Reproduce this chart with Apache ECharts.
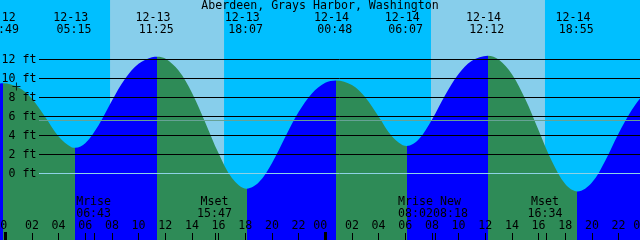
<!DOCTYPE html>
<html><head><meta charset="utf-8">
<script src="https://cdn.jsdelivr.net/npm/echarts@6/dist/echarts.min.js"></script>
<style>html,body{margin:0;padding:0;background:#00BFFF;overflow:hidden}#c{width:640px;height:240px}</style>
</head><body><div id="c"></div>
<script>
// ---------------- data ----------------
const stationTitle = 'Aberdeen, Grays Harbor, Washington';
// tide curve: hours since 12-13 00:00, height in feet
const tideHours = [-1, -0.183, 1, 2, 3, 4, 5, 5.25, 6, 7, 8, 9, 10, 11, 11.417, 12, 13, 14, 15, 16, 17, 18.117, 19, 20, 21, 22, 23, 24, 24.8, 26, 27, 28, 29, 30.117, 31, 32, 33, 34, 35, 36.2, 37, 38, 39, 40, 41, 42, 42.917, 44, 45, 46, 47, 48];
const tideFeet  = [9.3, 9.5, 9.05, 7.86, 5.94, 3.9, 2.75, 2.7, 3.19, 5.09, 7.66, 9.99, 11.54, 12.24, 12.3, 12.1, 10.84, 8.5, 5.38, 2.12, -0.47, -1.6, -0.96, 1.09, 3.84, 6.47, 8.43, 9.54, 9.8, 9.31, 8.02, 5.99, 3.93, 2.9, 3.58, 5.66, 8.26, 10.47, 11.86, 12.4, 12.01, 10.46, 7.84, 4.55, 1.28, -1.11, -1.9, -0.95, 1.35, 4.2, 6.7, 8.6];
// high / low tide events
const tideDates = ['12-12', '12-13', '12-13', '12-13', '12-14', '12-14', '12-14', '12-14'];
const tideTimes = ['23:49', '05:15', '11:25', '18:07', '00:48', '06:07', '12:12', '18:55'];
// moon events
const moonNames = ['Mrise', 'Mset', 'Mrise', 'New', 'Mset'];
const moonDates = ['12-13', '12-13', '12-14', '12-14', '12-14'];
const moonTimes = ['06:43', '15:47', '08:02', '08:18', '16:34'];
// daylight (hours since 12-13 00:00)
const sunriseHours = [7.86, 31.93];
const sunsetHours  = [16.41, 40.48];
// levels
const levelTicks = [0, 2, 4, 6, 8, 10, 12];
const mslFeet = 5.58;
const nowHour = 0.84, nowFeet = 9.16;
const dayStartHours = [0, 24];

// ---------------- style / layout ----------------
const FLOOD = '#0000FF', EBB = '#2E8B57', DAY = '#87CEEB', NIGHT = '#00BFFF';
const DATUM_COLOR = '#8ED2E6', MSL_COLOR = '#66A295';
const FONT = 'DejaVu Sans Mono', FS = 11.6;
const PX_PER_HOUR = 40 / 3, X0 = 5.25;   // pixel x of 12-13 00:00
const PX_PER_FOOT = 9.5, Y0 = 173.5;    // pixel y of 0 ft
const W = 640, H = 240;
const gridLeft = X0 - 2 * PX_PER_HOUR;
const gridRight = W - (X0 + 48 * PX_PER_HOUR);
const yMax = Y0 / PX_PER_FOOT;
const yMin = -(H - Y0) / PX_PER_FOOT;

function dayOffset(d) { return { '12-12': -24, '12-13': 0, '12-14': 24 }[d]; }
function toHours(d, hm) { const p = hm.split(':').map(Number); return dayOffset(d) + p[0] + p[1] / 60; }

const turnHours = tideTimes.map((t, i) => toHours(tideDates[i], t));
const bounds = [-Infinity].concat(turnHours, [Infinity]);
const pieces = [];
for (let i = 0; i < bounds.length - 1; i++) {
  const p = { color: i % 2 === 0 ? FLOOD : EBB };
  if (isFinite(bounds[i])) p.gte = bounds[i];
  if (isFinite(bounds[i + 1])) p.lt = bounds[i + 1];
  pieces.push(p);
}

const chart = echarts.init(document.getElementById('c'), null, { renderer: 'canvas', width: W, height: H });

const labelMarks = levelTicks.map(v => ({
  yAxis: v,
  lineStyle: { color: v === 0 ? DATUM_COLOR : 'rgba(0,0,0,0)', width: 1, type: 'solid' },
  label: { show: true, position: 'start', distance: 2.5, formatter: v + ' ft', color: '#000', fontFamily: FONT, fontSize: FS }
}));
labelMarks.push({ yAxis: mslFeet, lineStyle: { color: MSL_COLOR, width: 1, type: 'solid' }, label: { show: false } });

const option = {
  backgroundColor: NIGHT,
  animation: false,
  textStyle: { fontFamily: FONT },
  grid: [
    { left: gridLeft, right: gridRight, top: 0, bottom: 0, containLabel: false, outerBoundsMode: 'none' },
    { left: 39, right: 0, top: 0, bottom: 0, containLabel: false, outerBoundsMode: 'none' }
  ],
  xAxis: [
    {
      type: 'value', gridIndex: 0, min: -2, max: 48, interval: 2, position: 'bottom', z: 10,
      axisLine: { show: false, onZero: false }, splitLine: { show: false },
      axisTick: { show: true, inside: true, length: 7, lineStyle: { color: '#000', width: 1 } },
      axisLabel: {
        show: true, inside: true, margin: 14, verticalAlign: 'middle', color: '#000',
        fontFamily: FONT, fontSize: FS, hideOverlap: false,
        formatter: function (v) {
          const h = ((Math.round(v) % 24) + 24) % 24;
          const s = (h < 10 ? '0' : '') + h;
          return h === 0 ? '{z|' + s + '}' : s;
        },
        rich: { z: { padding: [0, 10, 0, 0], color: '#000', fontFamily: FONT, fontSize: FS } }
      }
    },
    { type: 'value', gridIndex: 1, min: 0, max: 1, show: false }
  ],
  yAxis: [
    { type: 'value', gridIndex: 0, min: yMin, max: yMax, show: false },
    { type: 'value', gridIndex: 1, min: yMin, max: yMax, show: false }
  ],
  visualMap: [{ type: 'piecewise', show: false, dimension: 0, seriesIndex: 2, pieces: pieces }],
  series: [
    {
      type: 'line', xAxisIndex: 0, yAxisIndex: 0, data: [], z: 0, silent: true,
      markArea: { silent: true, itemStyle: { color: DAY }, data: sunriseHours.map((s, i) => [{ xAxis: s }, { xAxis: sunsetHours[i] }]) }
    },
    {
      type: 'line', xAxisIndex: 1, yAxisIndex: 1, data: [], z: 1, silent: true,
      markLine: {
        silent: true, symbol: ['none', 'none'], label: { show: false },
        lineStyle: { color: '#000', width: 1, type: 'solid' },
        data: levelTicks.filter(v => v > 0).map(v => ({ yAxis: v }))
      }
    },
    {
      type: 'line', xAxisIndex: 0, yAxisIndex: 0, z: 2, silent: true,
      data: tideHours.map((t, i) => [t, tideFeet[i]]),
      smooth: 0.35, symbol: 'none', showSymbol: false,
      lineStyle: { opacity: 0 }, areaStyle: { opacity: 1, origin: 'start' }
    },
    {
      type: 'line', xAxisIndex: 1, yAxisIndex: 1, data: [], z: 3, silent: true,
      markLine: { silent: true, symbol: ['none', 'none'], data: labelMarks }
    },
    {
      type: 'scatter', xAxisIndex: 0, yAxisIndex: 0, z: 4, silent: true,
      data: [[nowHour, nowFeet]],
      symbol: 'path://M3.5,0h1v3.5h3.5v1h-3.5v3.5h-1v-3.5h-3.5v-1h3.5z', symbolSize: 8,
      itemStyle: { color: '#000' }
    }
  ]
};
chart.setOption(option);

const px = t => chart.convertToPixel({ xAxisIndex: 0 }, t);
function txt(s, x, y) {
  return { type: 'text', x: x, y: y, z: 10, silent: true,
    style: { text: s, fill: '#000', fontFamily: FONT, fontSize: FS, align: 'center', verticalAlign: 'middle' } };
}
const g = [];
g.push(txt(stationTitle, 320, 6));
turnHours.forEach((t, i) => {
  const x = px(t);
  g.push(txt(tideDates[i], x - 4.5, 18));
  g.push(txt(tideTimes[i], x - 1.2, 30));
});
// moon labels with simple overlap avoidance
const moonHours = moonTimes.map((t, i) => toHours(moonDates[i], t));
const centers = moonHours.map(t => px(t) - 1.2);
const widths = moonNames.map((n, i) => Math.max(n.length, moonTimes[i].length) * 7);
for (let i = 0; i < centers.length - 1; i++) {
  const need = (widths[i] + widths[i + 1]) / 2;
  if (centers[i + 1] - centers[i] < need) {
    const mid = (centers[i] + centers[i + 1]) / 2;
    centers[i] = mid - need / 2; centers[i + 1] = mid + need / 2;
  }
}
moonNames.forEach((n, i) => {
  g.push(txt(n, centers[i], 202));
  g.push(txt(moonTimes[i], centers[i], 214));
  const x = Math.floor(px(moonHours[i])) + 0.5;
  g.push({ type: 'line', z: 10, silent: true, shape: { x1: x, y1: 233, x2: x, y2: 240 }, style: { stroke: '#000', lineWidth: 1 } });
});
dayStartHours.forEach(t => {
  const x = Math.floor(px(t)) - 1;
  g.push({ type: 'rect', z: 10, silent: true, shape: { x: x, y: 232, width: 3, height: 8 }, style: { fill: '#000' } });
});
chart.setOption({ graphic: g });
</script>
</body></html>
